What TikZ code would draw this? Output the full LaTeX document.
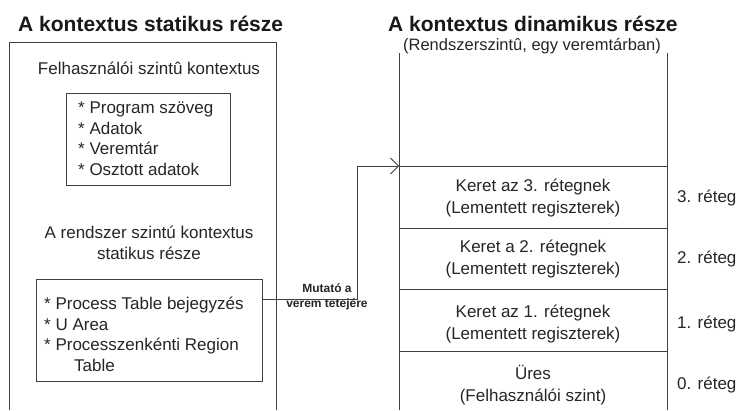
\documentclass[tikz,border=0pt]{standalone}
\usepackage{fontspec}
\setmainfont{Liberation Sans}
\usetikzlibrary{arrows.meta}
\begin{document}
\begin{tikzpicture}[x=1pt,y=-1pt,
  frame/.style={draw=black!75, line width=1pt},
  title/.style={font=\bfseries\fontsize{21}{24}\selectfont, text=black!90, inner sep=0pt},
  body/.style={font=\fontsize{17}{20.5}\selectfont, text=black!85, inner sep=0pt},
  tiny/.style={font=\bfseries\fontsize{12}{14.5}\selectfont, text=black!85, inner sep=0pt, align=center},
  cell/.style={body, align=center, font=\fontsize{17}{22}\selectfont}
]
\useasboundingbox (0,0) rectangle (736,410);
\fill[white] (0,0) rectangle (736,410);

% static part of the context
\node[title, anchor=west] (t1) at (18,24) {A kontextus statikus része};
\draw[frame] (9,410) -- (9,42) -- (276,42) -- (276,410);
\node[body] (user) at (149,68) {Felhasználói szintû kontextus};
\node[frame, minimum width=164pt, minimum height=92pt, anchor=north west] (ubox) at (66,93) {};
\node[body, align=left, anchor=north west] (ulist) at (78,102)
  {* Program szöveg\\* Adatok\\* Veremtár\\* Osztott adatok};
\node[body, align=center] (sys) at (149,243) {A rendszer szintú kontextus\\statikus része};
\node[frame, minimum width=226pt, minimum height=102pt, anchor=north west] (sbox) at (36,279) {};
\node[body, align=left, anchor=north west] (slist) at (44,297)
  {* Process Table bejegyzés\\* U Area\\* Processzenkénti Region\\\hspace*{30pt}Table};

% dynamic part of the context (kernel stack)
\node[title, anchor=west] (t2) at (388,24) {A kontextus dinamikus része};
\node[body, font=\fontsize{16.5}{18}\selectfont] (sub) at (532,46) {(Rendszerszintû, egy veremtárban)};
\draw[frame] (399,53) -- (399,410);
\draw[frame] (667,53) -- (667,410);
\coordinate (top) at (399,166);
\draw[frame] (399,166) -- (667,166);
\draw[frame] (399,228) -- (667,228);
\draw[frame] (399,289) -- (667,289);
\draw[frame] (399,351) -- (667,351);

\node[cell] (c3) at (533,198) {Keret az 3. rétegnek\\(Lementett regiszterek)};
\node[cell] (c2) at (533,259) {Keret a 2. rétegnek\\(Lementett regiszterek)};
\node[cell] (c1) at (533,324) {Keret az 1. rétegnek\\(Lementett regiszterek)};
\node[cell] (c0) at (533,385) {Üres\\(Felhasználói szint)};

\node[body, anchor=west] (r3) at (677,198) {3. réteg};
\node[body, anchor=west] (r2) at (677,259) {2. réteg};
\node[body, anchor=west] (r1) at (677,324) {1. réteg};
\node[body, anchor=west] (r0) at (677,385) {0. réteg};

% pointer to the top of the stack
\coordinate (pstart) at (sbox.east |- 0,299);
\draw[frame, -{Straight Barb[length=8pt,width=16pt,line width=0.8pt]}]
  (pstart) -- (357,299) -- (357,166) -- (top);
\node[tiny] (ptr) at (327,297) {Mutató a\\verem tetejére};
\end{tikzpicture}
\end{document}
